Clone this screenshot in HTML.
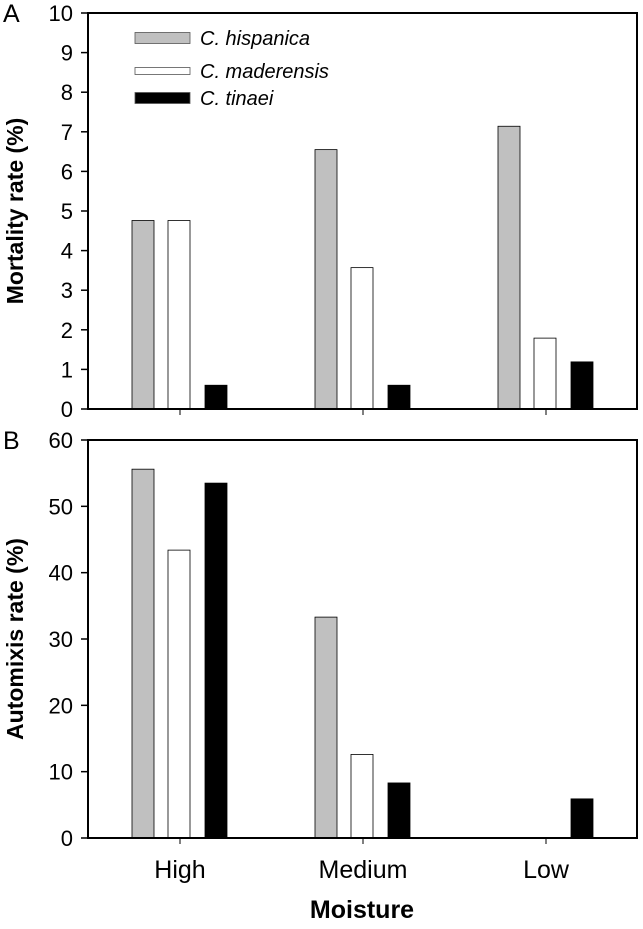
<!DOCTYPE html>
<html><head><meta charset="utf-8"><style>
body{margin:0;background:#fff;}
svg text{font-family:"Liberation Sans",Arial,sans-serif;fill:#000;}
</style></head><body>
<svg id="chart" width="643" height="924" xmlns="http://www.w3.org/2000/svg"></svg>
<script>
const categories = ["High","Medium","Low"];
const species = ["C. hispanica","C. maderensis","C. tinaei"];
const mortHisp = [4.76, 6.55, 7.14];
const mortMad = [4.76, 3.57, 1.79];
const mortTin = [0.6, 0.6, 1.19];
const autoHisp = [55.6, 33.3, 0];
const autoMad = [43.4, 12.6, 0];
const autoTin = [53.5, 8.3, 5.9];
const ticksA = [0,1,2,3,4,5,6,7,8,9,10];
const ticksB = [0,10,20,30,40,50,60];

const svg = document.getElementById('chart');
const NS = 'http://www.w3.org/2000/svg';
function mk(tag, attrs, parent){
  const e = document.createElementNS(NS, tag);
  for (const k in attrs) e.setAttribute(k, attrs[k]);
  (parent||svg).appendChild(e);
  return e;
}
const fills = ['#c0c0c0','#ffffff','#000000'];
const offsets = [-37, -1, 36];
const barW = 22;
const x0 = 88, x1 = 637;
function xCat(i){ return 180 + i*183; }

function panel(key, top, bottom, max, ticks, series, label, title){
  const y = v => bottom - (v/max)*(bottom-top);
  const g = mk('g', {});
  
  
  ticks.forEach(t => {
    const l = mk('line', {x1:81, x2:x0, y1:y(t), y2:y(t), stroke:'#000', 'stroke-width':1.5}, g);
    
    
    const tx = mk('text', {x:73, y:y(t)+8, 'text-anchor':'end', 'font-size':22}, g);
    tx.textContent = t;
    
    
  });
  series.forEach((vals, s) => {
    vals.forEach((v, i) => {
      if (v <= 0) return;
      const r = mk('rect', {x:xCat(i)+offsets[s]-barW/2, y:y(v), width:barW, height:bottom-y(v), fill:fills[s], stroke:'#000', 'stroke-width':0.8}, g);
      
      
    });
  });
  categories.forEach((c, i) => {
    const l = mk('line', {x1:xCat(i), x2:xCat(i), y1:bottom, y2:bottom+6, stroke:'#000', 'stroke-width':1}, g);
    
    
  });
  const fr = mk('rect', {x:x0, y:top, width:x1-x0, height:bottom-top, fill:'none', stroke:'#000', 'stroke-width':2}, g);
  
  
  const pl = mk('text', {x:3, y:top+9, 'font-size':25}, g);
  pl.textContent = label;
  
  
  const cy = (top+bottom)/2;
  const yt = mk('text', {x:0, y:0, 'font-size':23, 'font-weight':'bold', 'text-anchor':'middle', transform:'translate(23,'+cy+') rotate(-90)'}, g);
  yt.textContent = title;
  
  
}
panel('a', 13, 409, 10, ticksA, [mortHisp, mortMad, mortTin], 'A', 'Mortality rate (%)');
panel('b', 440, 838, 60, ticksB, [autoHisp, autoMad, autoTin], 'B', 'Automixis rate (%)');

categories.forEach((c, i) => {
  const t = mk('text', {x:xCat(i), y:878, 'text-anchor':'middle', 'font-size':25});
  t.textContent = c;
  
  
});
const xt = mk('text', {x:362, y:918, 'text-anchor':'middle', 'font-size':25, 'font-weight':'bold'});
xt.textContent = 'Moisture';



const legY = [38, 71, 98];
species.forEach((sp, s) => {
  const h = s === 1 ? 7 : 11;
  const r = mk('rect', {x:135, y:legY[s]-h/2, width:55, height:h, fill:fills[s], stroke:'#555', 'stroke-width':0.8});
  
  
  const t = mk('text', {x:200, y:legY[s]+7, 'font-size':20, 'font-style':'italic'});
  t.textContent = sp;
  
  
});
</script>
</body></html>
